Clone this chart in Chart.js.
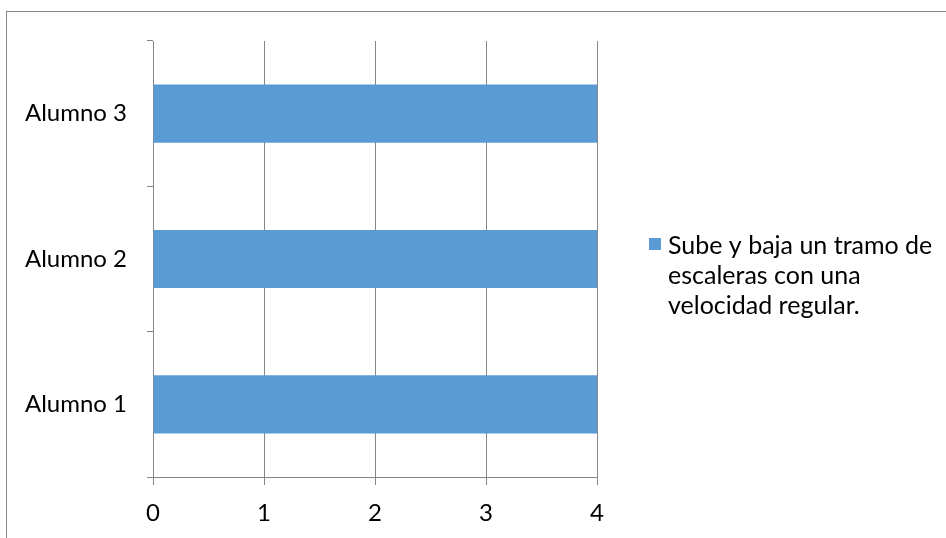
<!DOCTYPE html>
<html>
<head>
<meta charset="utf-8">
<script src="https://cdn.jsdelivr.net/npm/chart.js@4"></script>
<style>
  body { margin: 0; background: #fff; }
  #wrap { width: 946px; height: 538px; }
</style>
</head>
<body>
<div id="wrap"><canvas id="bar-chart"></canvas></div>
<script>
// chart data
var alumnos = ["Alumno 1", "Alumno 2", "Alumno 3"];
var valores = [4, 4, 4];
var serie = ["Sube y baja un tramo de", "escaleras con una", "velocidad regular."];
var xTicks = [0, 1, 2, 3, 4];

var fuente = "Lato, 'Open Sans', sans-serif";
var gris = "#868686";

// frame around the whole chart + wrapped legend on the right
var marco = {
  id: 'marco',
  beforeDraw: function(chart) {
    var ctx = chart.ctx;
    ctx.save();
    ctx.strokeStyle = gris;
    ctx.lineWidth = 1;
    ctx.strokeRect(6.5, 11.5, 1000, 600);
    ctx.restore();
  },
  afterDraw: function(chart) {
    var ctx = chart.ctx;
    var a = chart.chartArea;
    ctx.save();
    ctx.fillStyle = "#5B9BD5";
    ctx.fillRect(a.right + 52, 238, 12, 12);
    ctx.fillStyle = "#000";
    ctx.font = "25px " + fuente;
    ctx.textBaseline = "middle";
    for (var i = 0; i < serie.length; i++) {
      ctx.fillText(serie[i], a.right + 71, 246 + i * 30);
    }
    ctx.restore();
  }
};

new Chart(document.getElementById("bar-chart"), {
  type: 'bar',
  data: {
    labels: alumnos,
    datasets: [{
      label: serie.join(" "),
      backgroundColor: "#5B9BD5",
      data: valores,
      categoryPercentage: 1,
      barPercentage: 0.4
    }]
  },
  options: {
    indexAxis: 'y',
    responsive: true,
    maintainAspectRatio: false,
    animation: false,
    layout: { padding: { left: 0, top: 41, right: 349, bottom: 0 } },
    plugins: {
      legend: { display: false },
      tooltip: { enabled: false }
    },
    scales: {
      x: {
        min: 0,
        max: 4,
        afterBuildTicks: function(s) { s.ticks = xTicks.map(function(v) { return { value: v }; }); },
        afterFit: function(s) { s.height = 61; },
        border: { color: gris, width: 1 },
        grid: { color: gris, lineWidth: 1, tickLength: 8 },
        ticks: { color: "#000", font: { family: fuente, size: 24 }, padding: 14 }
      },
      y: {
        reverse: true,
        afterFit: function(s) { s.width = 153; },
        border: { color: gris, width: 1 },
        grid: { color: gris, lineWidth: 1, drawOnChartArea: false, offset: true, tickLength: 6 },
        ticks: { color: "#000", font: { family: fuente, size: 24 }, padding: 20 }
      }
    }
  },
  plugins: [marco]
});
</script>
</body>
</html>
